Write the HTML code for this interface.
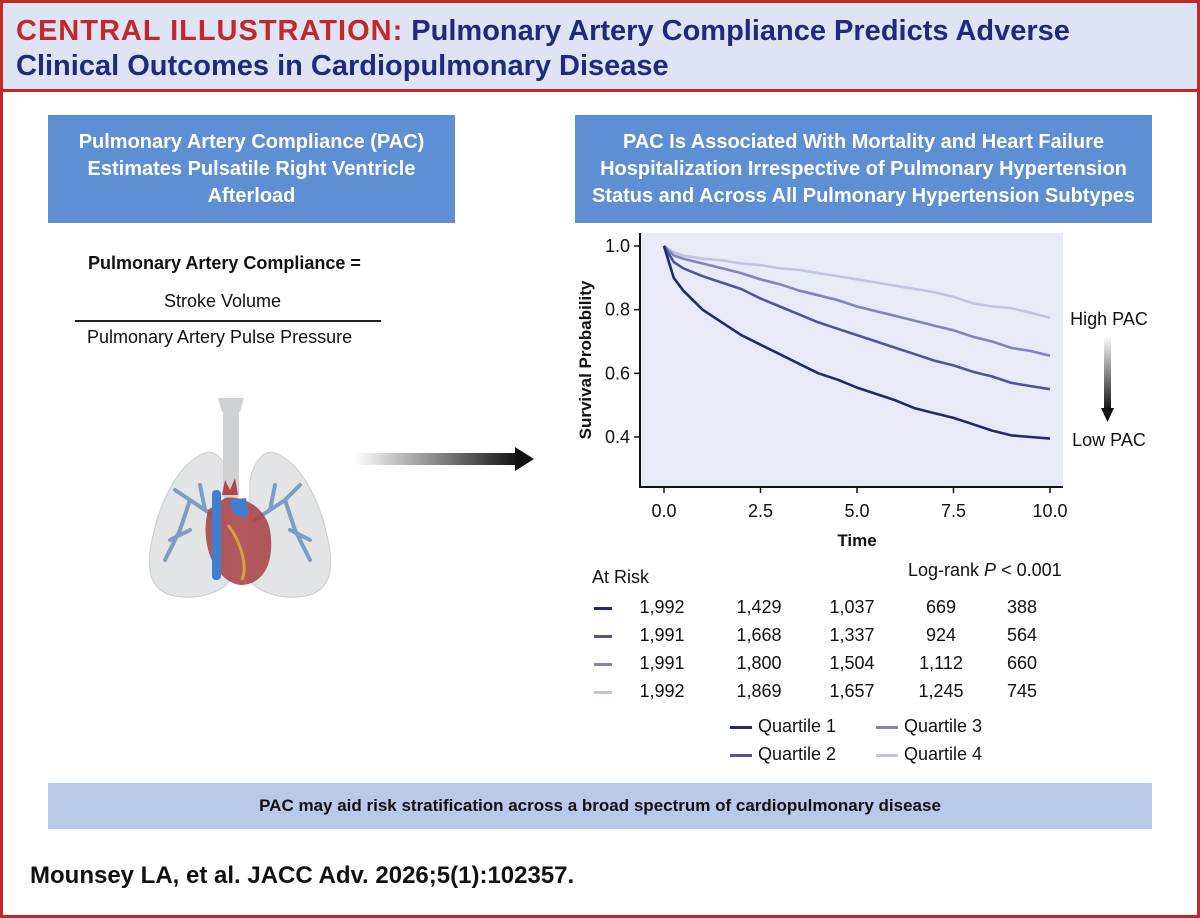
<!DOCTYPE html>
<html><head><meta charset="utf-8"><style>
body{margin:0;background:#fff;font-family:"Liberation Sans",sans-serif}
#page{position:relative;width:1200px;height:918px;overflow:hidden;background:#fff}
.abs{position:absolute}
.box{position:absolute;background:#5e8fd2;color:#fff;font-weight:bold;font-size:20px;line-height:27px;text-align:center;display:flex;align-items:center;justify-content:center}
.t{position:absolute;font-size:18px;color:#111;white-space:nowrap}
</style></head><body>
<div id="page">
<div class="abs" style="left:0;top:0;width:1194px;height:912px;border:3px solid #c1272d"></div>
<div class="abs" style="left:3px;top:3px;width:1194px;height:86px;background:#dfe4f4;border-bottom:3px solid #c1272d"></div>
<div class="abs" style="left:16px;top:14px;width:1160px;font-size:29px;line-height:35px;font-weight:bold;color:#1f2a7c"><span style="color:#c1272d;letter-spacing:1px">CENTRAL ILLUSTRATION:</span> Pulmonary Artery Compliance Predicts Adverse Clinical Outcomes in Cardiopulmonary Disease</div>

<div class="box" style="left:48px;top:115px;width:407px;height:108px">Pulmonary Artery Compliance (PAC)<br>Estimates Pulsatile Right Ventricle<br>Afterload</div>
<div class="box" style="left:575px;top:115px;width:577px;height:108px">PAC Is Associated With Mortality and Heart Failure<br>Hospitalization Irrespective of Pulmonary Hypertension<br>Status and Across All Pulmonary Hypertension Subtypes</div>

<div class="t" style="left:88px;top:253px;font-weight:bold">Pulmonary Artery Compliance =</div>
<div class="t" style="left:164px;top:291px">Stroke Volume</div>
<div class="abs" style="left:75px;top:320px;width:306px;height:2px;background:#222"></div>
<div class="t" style="left:87px;top:327px">Pulmonary Artery Pulse Pressure</div>

<svg class="abs" style="left:130px;top:390px" width="220" height="220" viewBox="0 0 220 220">
<path d="M78 62 C50 70 30 110 22 150 C16 180 20 198 40 205 C70 212 95 200 100 190 L100 90 C96 72 88 62 78 62Z" fill="#e3e4e6" stroke="#c9cbcf"/>
<path d="M142 62 C170 70 190 110 198 150 C204 180 200 198 180 205 C150 212 125 200 120 190 L120 90 C124 72 132 62 142 62Z" fill="#e3e4e6" stroke="#c9cbcf"/>
<rect x="93" y="10" width="16" height="100" rx="6" fill="#cfd1d4"/>
<path d="M88 8 L114 8 L110 22 L92 22Z" fill="#cfd1d4"/>
<g stroke="#7b9cc4" stroke-width="4" fill="none" stroke-linecap="round">
<path d="M90 130 L60 110 L45 100 M60 110 L50 140 L35 170 M75 120 L70 95 M60 140 L40 150"/>
<path d="M125 130 L155 110 L170 95 M155 110 L165 140 L180 170 M140 120 L145 95 M160 140 L180 150"/>
</g>
<path d="M78 120 C70 150 82 190 110 195 C135 195 145 170 140 140 C135 115 110 105 95 108 Z" fill="#a8474a" opacity="0.9"/>
<path d="M98 135 C110 150 118 175 112 190" stroke="#d8a23a" stroke-width="3" fill="none"/>
<rect x="82" y="100" width="9" height="90" rx="4" fill="#3f7fd0"/>
<path d="M100 110 C100 125 110 130 118 125 L116 108Z" fill="#3f7fd0"/>
<path d="M92 105 L95 90 L100 100 L105 88 L108 105Z" fill="#b0474b"/>
</svg>

<svg class="abs" style="left:352px;top:446px" width="185" height="26">
<defs><linearGradient id="ag" x1="0" x2="1"><stop offset="0" stop-color="#fff"/><stop offset="1" stop-color="#111"/></linearGradient></defs>
<rect x="2" y="7" width="165" height="12" fill="url(#ag)"/>
<path d="M163 1 L182 13 L163 25Z" fill="#111"/>
</svg>

<svg class="abs" id="chart" style="left:560px;top:225px" width="620" height="335"></svg>

<div class="t" style="left:592px;top:567px">At Risk</div>
<div class="t" style="left:908px;top:560px">Log-rank <i>P</i> &lt; 0.001</div>
<div id="risk"></div>
<div id="legend"></div>

<div class="abs" style="left:48px;top:783px;width:1104px;height:46px;background:#b9c9e9;font-weight:bold;font-size:17px;line-height:46px;text-align:center;color:#111">PAC may aid risk stratification across a broad spectrum of cardiopulmonary disease</div>
<div class="abs" style="left:30px;top:862px;font-size:24px;font-weight:bold;color:#111">Mounsey LA, et al. JACC Adv. 2026;5(1):102357.</div>
</div>
<script>
const times=[0,0.25,0.5,1,1.5,2,2.5,3,3.5,4,4.5,5,5.5,6,6.5,7,7.5,8,8.5,9,9.5,10];
const q1=[1,0.90,0.86,0.80,0.76,0.72,0.69,0.66,0.63,0.60,0.58,0.555,0.535,0.515,0.49,0.475,0.46,0.44,0.42,0.405,0.40,0.395];
const q2=[1,0.95,0.93,0.905,0.885,0.865,0.835,0.81,0.785,0.76,0.74,0.72,0.70,0.68,0.66,0.64,0.625,0.605,0.59,0.57,0.56,0.55];
const q3=[1,0.97,0.96,0.945,0.93,0.915,0.895,0.88,0.86,0.845,0.83,0.81,0.795,0.78,0.765,0.75,0.735,0.715,0.70,0.68,0.67,0.655];
const q4=[1,0.98,0.97,0.96,0.955,0.945,0.94,0.93,0.925,0.915,0.905,0.895,0.885,0.875,0.865,0.855,0.84,0.82,0.81,0.805,0.79,0.775];
const xTicks=[0,2.5,5,7.5,10];
const yTicks=[0.4,0.6,0.8,1.0];
const seriesNames=["Quartile 1","Quartile 2","Quartile 3","Quartile 4"];
const atRisk1=["1,992","1,429","1,037","669","388"];
const atRisk2=["1,991","1,668","1,337","924","564"];
const atRisk3=["1,991","1,800","1,504","1,112","660"];
const atRisk4=["1,992","1,869","1,657","1,245","745"];

const colors=["#202a6d","#4f5499","#8184b6","#c1c3de"];
const NS="http://www.w3.org/2000/svg";
const svg=document.getElementById('chart');
const X=t=>104+t*38.6, Y=v=>21+(1-v)*318.3;
function mk(tag,attrs,parent){const e=document.createElementNS(NS,tag);for(const k in attrs)e.setAttribute(k,attrs[k]);(parent||svg).appendChild(e);return e;}
const bg=mk('rect',{x:80,y:8,width:423,height:254,fill:"#e8ebf7"});


const ax=mk('path',{d:"M80 8 V262 H503",stroke:"#111","stroke-width":2,fill:"none"});


xTicks.forEach(t=>{
 mk('line',{x1:X(t),x2:X(t),y1:262,y2:268,stroke:"#111","stroke-width":1.5});
 const tx=mk('text',{x:X(t),y:292,"text-anchor":"middle","font-size":18,fill:"#111","font-family":"Liberation Sans"});tx.textContent=t.toFixed(1);
 
 
});
yTicks.forEach(v=>{
 mk('line',{x1:74,x2:80,y1:Y(v),y2:Y(v),stroke:"#111","stroke-width":1.5});
 const tx=mk('text',{x:70,y:Y(v)+6,"text-anchor":"end","font-size":18,fill:"#111","font-family":"Liberation Sans"});tx.textContent=v.toFixed(1);
 
 
});
const xt=mk('text',{x:X(5),y:321,"text-anchor":"middle","font-size":17,"font-weight":"bold",fill:"#111","font-family":"Liberation Sans"});xt.textContent="Time";


const yt=mk('text',{x:0,y:0,transform:"translate(31 135) rotate(-90)","text-anchor":"middle","font-size":17,"font-weight":"bold",fill:"#111","font-family":"Liberation Sans"});yt.textContent="Survival Probability";


[q4,q3,q2,q1].forEach((s,i)=>{
 const idx=3-i;
 let d='';s.forEach((v,j)=>{d+=(j?'L':'M')+X(times[j]).toFixed(1)+' '+Y(v).toFixed(1)+' ';});
 const p=mk('path',{d:d,stroke:colors[idx],"stroke-width":2.6,fill:"none","stroke-linejoin":"round"});
 
 
});
const hp=mk('text',{x:549,y:100,"text-anchor":"middle","font-size":18,fill:"#111","font-family":"Liberation Sans"});hp.textContent="High PAC";


const lp=mk('text',{x:549,y:221,"text-anchor":"middle","font-size":18,fill:"#111","font-family":"Liberation Sans"});lp.textContent="Low PAC";


const defs=mk('defs',{});const lg=mk('linearGradient',{id:"vg",x1:0,x2:0,y1:0,y2:1},defs);
mk('stop',{offset:0,"stop-color":"#fff"},lg);mk('stop',{offset:1,"stop-color":"#111"},lg);
const ga=mk('rect',{x:544,y:110,width:7,height:75,fill:"url(#vg)"});


mk('path',{d:"M541 183 L554 183 L547.5 197Z",fill:"#111"});

const risk=document.getElementById('risk');
const rows=[atRisk1,atRisk2,atRisk3,atRisk4];
const cols=[662,759,852,941,1022];
rows.forEach((r,i)=>{
 const y=597+i*28;
 const ln=document.createElement('div');
 
 
 ln.style.cssText=`position:absolute;left:594px;top:${y+10}px;width:18px;height:3px;background:${colors[i]}`;
 risk.appendChild(ln);
 r.forEach((v,j)=>{
  const c=document.createElement('div');
  
  
  c.className='t';c.style.cssText=`left:${cols[j]-50}px;top:${y}px;width:100px;text-align:center`;
  c.textContent=v;risk.appendChild(c);
 });
});
const leg=document.getElementById('legend');
const lpos=[[730,716],[730,744],[876,716],[876,744]];
seriesNames.forEach((n,i)=>{
 const e=document.createElement('div');
 
 
 e.className='t';e.style.cssText=`left:${lpos[i][0]}px;top:${lpos[i][1]}px`;
 e.innerHTML=`<span style="display:inline-block;width:22px;height:3px;background:${colors[i]};vertical-align:middle;margin-right:6px"></span>${n}`;
 leg.appendChild(e);
});
</script>
</body></html>
